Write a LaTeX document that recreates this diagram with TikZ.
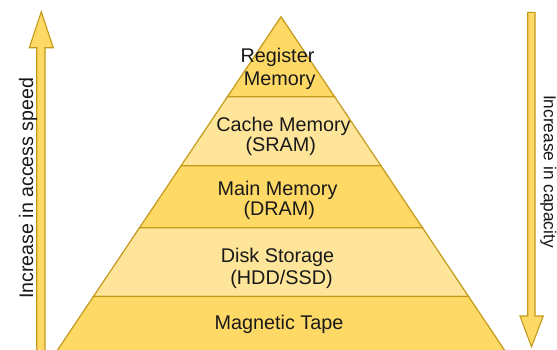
\documentclass[tikz,border=0pt]{standalone}
\usepackage{fontspec}
\setmainfont{Liberation Sans}
\definecolor{tierdark}{HTML}{FFD966}
\definecolor{tierlight}{HTML}{FFE599}
\definecolor{tieredge}{HTML}{C49A1C}
\begin{document}
\begin{tikzpicture}[x=1pt,y=-1pt,
  tier/.style={draw=tieredge,line width=1.2pt,line join=miter},
  darktier/.style={tier,fill=tierdark},
  lighttier/.style={tier,fill=tierlight},
  bigarrow/.style={draw=tieredge,fill=tierdark,line width=1.1pt,line join=miter},
  label/.style={font=\fontsize{19.8}{22}\selectfont,anchor=base,inner sep=0pt,text=black!90},
  sidelabel/.style={font=\fontsize{17.3}{20}\selectfont,anchor=base,inner sep=0pt,text=black!90}]
\useasboundingbox (0,0) rectangle (557,349);
\fill[white] (0,0) rectangle (557,349);

% pyramid tiers, top to bottom
\draw[darktier]  (281,16.7) -- (334.6,96.7) -- (227.4,96.7) -- cycle;
\draw[lighttier] (227.4,96.7) -- (334.6,96.7) -- (380.9,165.7) -- (181.1,165.7) -- cycle;
\draw[darktier]  (181.1,165.7) -- (380.9,165.7) -- (422.5,227.7) -- (139.5,227.7) -- cycle;
\draw[lighttier] (139.5,227.7) -- (422.5,227.7) -- (468.6,296.5) -- (93.4,296.5) -- cycle;
\draw[darktier]  (93.4,296.5) -- (468.6,296.5) -- (507.8,355) -- (54.2,355) -- cycle;

% tier labels
\node[label] (reg1)  at (277.5,62.7)  {Register};
\node[label] (reg2)  at (279.7,85.0)  {Memory};
\node[label] (cache1) at (283.5,131.7) {Cache Memory};
\node[label] (cache2) at (280.8,151.0) {(SRAM)};
\node[label] (main1) at (277.5,195.0) {Main Memory};
\node[label] (main2) at (279.3,215.0) {(DRAM)};
\node[label] (disk1) at (277.5,262.3) {Disk Storage};
\node[label] (disk2) at (281.5,284.3) {(HDD/SSD)};
\node[label] (tape)  at (279.0,329.0) {Magnetic Tape};

% left arrow: access speed grows upwards
\draw[bigarrow] (36.7,355) -- (36.7,47.7) -- (29.3,47.7) -- (41.3,11.7)
  -- (53.3,47.7) -- (45,47.7) -- (45,355) -- cycle;
\node[sidelabel,font=\fontsize{19.6}{22}\selectfont,rotate=90] (speed) at (33,188.3) {Increase in access speed};

% right arrow: capacity grows downwards
\draw[bigarrow] (527.7,12.3) -- (535,12.3) -- (535,316) -- (543.3,316)
  -- (531.5,346.7) -- (520,316) -- (527.7,316) -- cycle;
\node[sidelabel,rotate=-90] (capacity) at (543.8,171.5) {Increase in capacity};
\end{tikzpicture}
\end{document}
